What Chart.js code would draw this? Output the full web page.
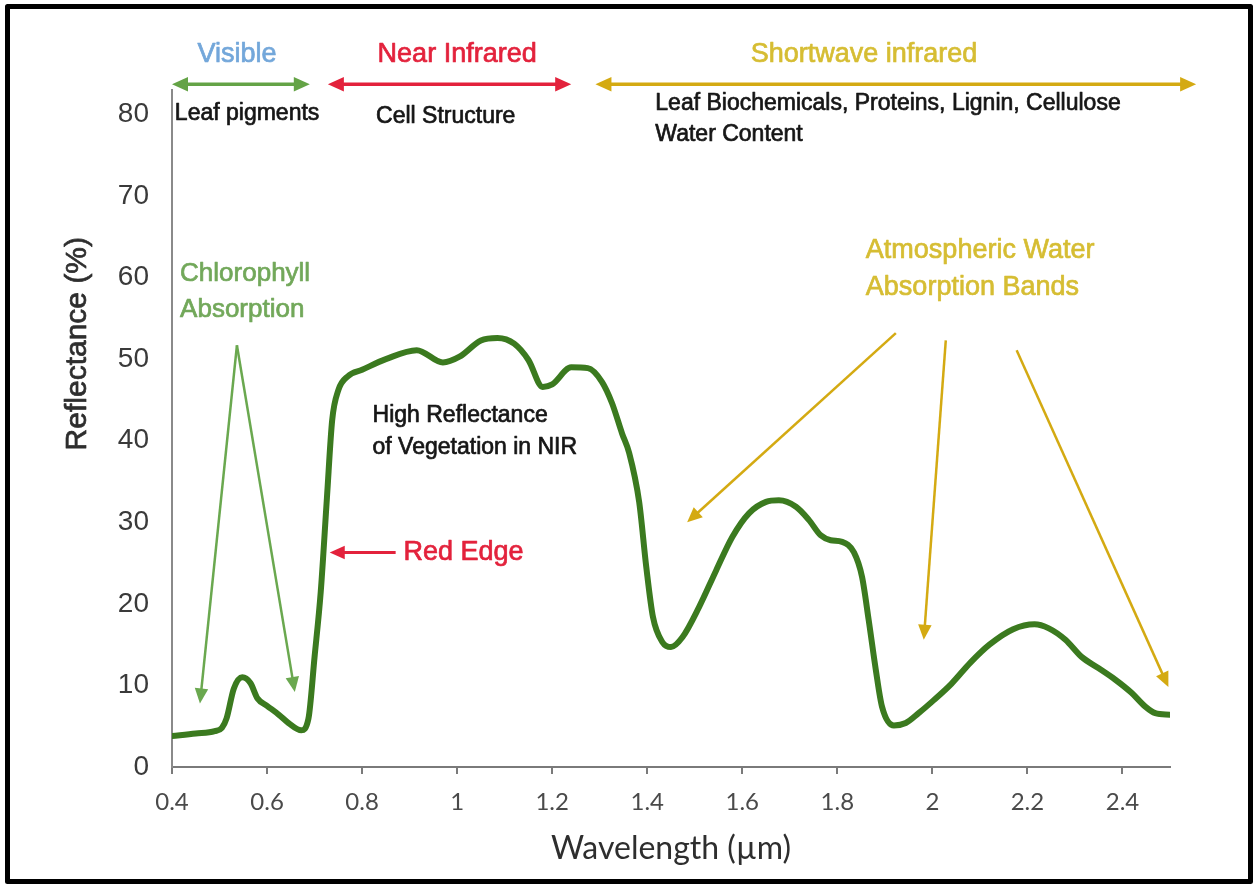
<!DOCTYPE html>
<html><head><meta charset="utf-8">
<script src="https://cdn.jsdelivr.net/npm/chart.js@4.4.0/dist/chart.umd.min.js"></script>
<style>html,body{margin:0;padding:0;background:#fff;}#wrap{width:1256px;height:884px;}</style>
</head><body><div id="wrap"><canvas id="c" width="1256" height="884"></canvas></div>
<script>
// ---- data ----
const wavelength = [0.40,0.45,0.49,0.505,0.515,0.53,0.548,0.565,0.58,0.60,0.625,0.645,0.672,0.687,0.70,0.713,0.726,0.737,0.75,0.77,
  0.80,0.85,0.915,0.97,1.005,1.05,1.085,1.12,1.15,1.18,1.20,1.24,1.275,1.305,1.326,1.347,1.362,1.383,1.398,1.412,
  1.432,1.45,1.474,1.509,1.545,1.579,1.614,1.65,1.677,1.713,1.74,1.765,1.786,1.81,1.835,1.852,1.866,1.881,1.894,1.919,
  1.944,1.971,2.003,2.04,2.08,2.12,2.17,2.215,2.245,2.28,2.314,2.35,2.385,2.419,2.448,2.469,2.50];
const reflectance = [3.8,4.1,4.4,4.8,6.0,9.6,11.0,10.3,8.4,7.5,6.4,5.4,4.5,5.9,13.5,21.5,33.0,42.5,46.2,47.9,
  48.7,50.0,51.1,49.6,50.3,52.3,52.6,51.9,49.9,46.6,46.9,49.0,48.9,47.2,44.6,40.9,38.5,32.5,24.5,18.4,
  15.3,14.7,15.9,19.6,24.1,28.2,31.1,32.5,32.7,31.9,30.3,28.4,27.8,27.6,26.3,23.3,18.0,11.9,7.4,5.1,
  5.4,6.6,8.2,10.2,12.8,15.0,16.9,17.5,17.0,15.6,13.5,12.1,10.7,9.1,7.4,6.6,6.4];
const xTickValues = [0.4,0.6,0.8,1.0,1.2,1.4,1.6,1.8,2.0,2.2,2.4];
const xTickLabels = ['0.4','0.6','0.8','1','1.2','1.4','1.6','1.8','2','2.2','2.4'];
const yTickValues = [0,10,20,30,40,50,60,70,80];
const yTickLabels = ['0','10','20','30','40','50','60','70','80'];
const xTitle = 'Wavelength (µm)';
const yTitle = 'Reflectance (%)';

// ---- annotations (positions in data units) ----
const SANS = '"Liberation Sans", Arial, sans-serif';
const annoTexts = [
  {t:'Visible', x:0.537, y:87.3, a:'center', c:'#73a7da', s:27},
  {t:'Near Infrared', x:1.0, y:87.3, a:'center', c:'#e3223c', s:27},
  {t:'Shortwave infrared', x:1.856, y:87.3, a:'center', c:'#d6bd33', s:27},
  {t:'Leaf pigments', x:0.406, y:80.1, a:'left', c:'#161616', s:23},
  {t:'Cell Structure', x:0.976, y:79.7, a:'center', c:'#161616', s:23},
  {t:'Leaf Biochemicals, Proteins, Lignin, Cellulose', x:1.417, y:81.3, a:'left', c:'#161616', s:23},
  {t:'Water Content', x:1.417, y:77.5, a:'left', c:'#161616', s:23},
  {t:'Chlorophyll', x:0.417, y:60.5, a:'left', c:'#72a85a', s:26},
  {t:'Absorption', x:0.417, y:56.0, a:'left', c:'#72a85a', s:26},
  {t:'High Reflectance', x:0.822, y:43.1, a:'left', c:'#161616', s:23},
  {t:'of Vegetation in NIR', x:0.822, y:39.1, a:'left', c:'#161616', s:23},
  {t:'Red Edge', x:0.887, y:26.3, a:'left', c:'#e3223c', s:27},
  {t:'Atmospheric Water', x:1.860, y:63.3, a:'left', c:'#d6bd33', s:27},
  {t:'Absorption Bands', x:1.860, y:58.8, a:'left', c:'#d6bd33', s:27}
];
const annoArrows = [
  {x1:0.40, y1:83.7, x2:0.69, y2:83.7, c:'#64a346', w:3.5, both:true, h:16},
  {x1:0.728, y1:83.7, x2:1.24, y2:83.7, c:'#e3223c', w:3.5, both:true, h:16},
  {x1:1.291, y1:83.7, x2:2.555, y2:83.7, c:'#d4aa12', w:3.5, both:true, h:16},
  {x1:0.5366, y1:51.7, x2:0.4588, y2:7.8, c:'#6aa84f', w:2.5, both:false, h:15},
  {x1:0.5366, y1:51.7, x2:0.6584, y2:9.2, c:'#6aa84f', w:2.5, both:false, h:15},
  {x1:0.8706, y1:26.3, x2:0.7319, y2:26.3, c:'#e3223c', w:3, both:false, h:15},
  {x1:1.9231, y1:53.2, x2:1.4840, y2:30.0, c:'#d4aa12', w:2.5, both:false, h:15},
  {x1:2.0282, y1:52.3, x2:1.9819, y2:15.6, c:'#d4aa12', w:2.5, both:false, h:15},
  {x1:2.1773, y1:51.1, x2:2.4966, y2:9.8, c:'#d4aa12', w:2.5, both:false, h:15}
];
const yTitlePos = {x:0.2025, y:51.9};

function head(ctx, x1, y1, x2, y2, h, color){
  const ang = Math.atan2(y2-y1, x2-x1);
  const hw = h*0.45;
  ctx.beginPath();
  ctx.moveTo(x2, y2);
  ctx.lineTo(x2 - h*Math.cos(ang) + hw*Math.sin(ang), y2 - h*Math.sin(ang) - hw*Math.cos(ang));
  ctx.lineTo(x2 - h*Math.cos(ang) - hw*Math.sin(ang), y2 - h*Math.sin(ang) + hw*Math.cos(ang));
  ctx.closePath();
  ctx.fillStyle = color; ctx.fill();
}
function arrow(ctx, x1, y1, x2, y2, o){
  const ang = Math.atan2(y2-y1, x2-x1);
  const sx = o.both ? x1 + o.h*0.8*Math.cos(ang) : x1, sy = o.both ? y1 + o.h*0.8*Math.sin(ang) : y1;
  const ex = x2 - o.h*0.8*Math.cos(ang), ey = y2 - o.h*0.8*Math.sin(ang);
  ctx.beginPath(); ctx.moveTo(sx, sy); ctx.lineTo(ex, ey);
  ctx.strokeStyle = o.c; ctx.lineWidth = o.w; ctx.lineCap = 'butt'; ctx.stroke();
  head(ctx, x1, y1, x2, y2, o.h, o.c);
  if (o.both) head(ctx, x2, y2, x1, y1, o.h, o.c);
}
function boldText(ctx, text, x, y, color, sw){
  ctx.fillStyle = color; ctx.fillText(text, x, y);
  ctx.strokeStyle = color; ctx.lineWidth = sw; ctx.lineJoin = 'round'; ctx.strokeText(text, x, y);
}

const annoPlugin = {
  id:'anno',
  beforeDraw(chart){
    const ctx = chart.ctx; ctx.save(); ctx.fillStyle = '#fff'; ctx.fillRect(0,0,chart.width,chart.height); ctx.restore();
  },
  afterDraw(chart){
    const ctx = chart.ctx, xs = chart.scales.x, ys = chart.scales.y;
    ctx.save();
    annoArrows.forEach(a => arrow(ctx, xs.getPixelForValue(a.x1), ys.getPixelForValue(a.y1), xs.getPixelForValue(a.x2), ys.getPixelForValue(a.y2), a));
    ctx.textBaseline = 'middle';
    annoTexts.forEach(t => {
      ctx.font = t.s + 'px ' + SANS; ctx.textAlign = t.a;
      boldText(ctx, t.t, xs.getPixelForValue(t.x), ys.getPixelForValue(t.y), t.c, 0.7);
    });
    // y axis title
    ctx.save();
    ctx.translate(xs.getPixelForValue(yTitlePos.x), ys.getPixelForValue(yTitlePos.y));
    ctx.rotate(-Math.PI/2);
    ctx.font = '30px ' + SANS; ctx.textAlign = 'center';
    boldText(ctx, yTitle, 0, 0, '#2e2e2e', 0.7);
    ctx.restore();
    // frame
    ctx.strokeStyle = '#000';
    ctx.lineWidth = 5; ctx.strokeRect(7.5, 6.5, 1243, 875);
    ctx.restore();
  }
};

new Chart(document.getElementById('c'), {
  type:'line',
  data:{datasets:[{
    data: wavelength.map((x,i) => ({x:x, y:reflectance[i]})),
    borderColor:'#3b7a1f', borderWidth:6, pointRadius:0, fill:false,
    cubicInterpolationMode:'monotone', borderJoinStyle:'round', borderCapStyle:'round'
  }]},
  options:{
    responsive:false, animation:false, devicePixelRatio:1,
    layout:{padding:{top:90, right:86, left:0, bottom:0}},
    plugins:{legend:{display:false}, tooltip:{enabled:false}},
    scales:{
      x:{type:'linear', min:0.4, max:2.5,
        afterBuildTicks: s => { s.ticks = xTickValues.map(v => ({value:v})); },
        afterFit: s => { s.height = 117; },
        ticks:{callback:(v,i) => xTickLabels[i], font:{family:'Lato', size:24}, color:'#4a4a4a', padding:14, maxRotation:0, autoSkip:false},
        grid:{drawOnChartArea:false, drawTicks:true, tickLength:7, color:'#7a7a7a', lineWidth:2},
        border:{display:true, color:'#7a7a7a', width:2},
        title:{display:true, text:xTitle, font:{family:'Lato', size:32}, color:'#2e2e2e', padding:{top:0, bottom:16}}
      },
      y:{type:'linear', min:0, max:83,
        afterBuildTicks: s => { s.ticks = yTickValues.map(v => ({value:v})); },
        afterFit: s => { s.width = 172; },
        ticks:{callback:(v,i) => yTickLabels[i], font:{family:'Liberation Sans', size:28}, color:'#3a3a3a', padding:23},
        grid:{display:false, drawTicks:false},
        border:{display:true, color:'#8a8a8a', width:2}
      }
    }
  },
  plugins:[annoPlugin]
});
</script></body></html>
